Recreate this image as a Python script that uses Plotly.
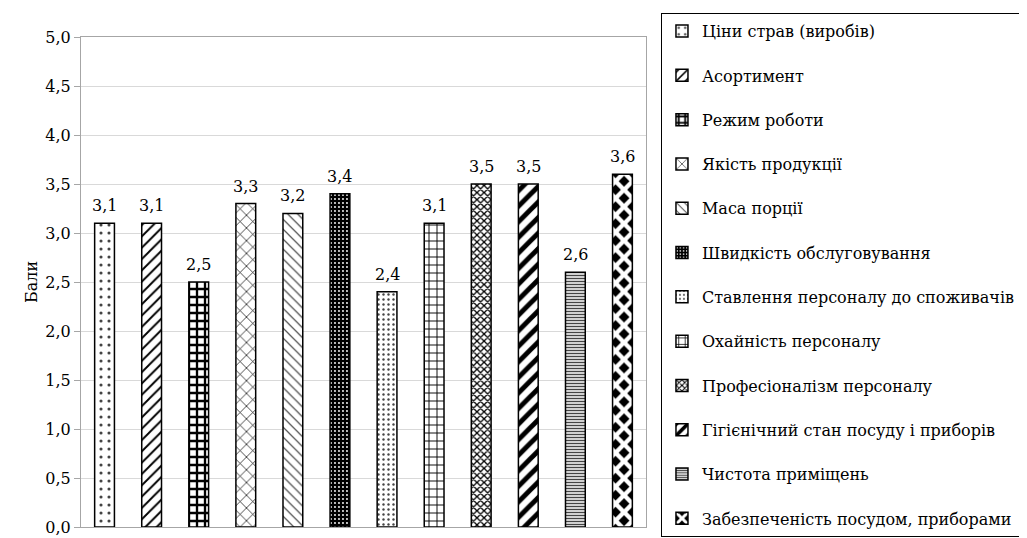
import plotly.graph_objects as go

categories = [
    "Ціни страв (виробів)",
    "Асортимент",
    "Режим роботи",
    "Якість продукції",
    "Маса порції",
    "Швидкість обслуговування",
    "Ставлення персоналу до споживачів",
    "Охайність персоналу",
    "Професіоналізм персоналу",
    "Гігієнічний стан посуду і приборів",
    "Чистота приміщень",
    "Забезпеченість посудом, приборами",
]
values = [3.1, 3.1, 2.5, 3.3, 3.2, 3.4, 2.4, 3.1, 3.5, 3.5, 2.6, 3.6]
y_ticks = [0, 0.5, 1, 1.5, 2, 2.5, 3, 3.5, 4, 4.5, 5]

# (shape, fgcolor, bgcolor, size, solidity)
patterns = [
    (".", "#444444", "white", 8, 0.12),
    ("/", "black", "white", 8, 0.24),
    ("+", "black", "white", 8, 0.5),
    ("x", "black", "white", 9, 0.15),
    ("\\", "#555555", "white", 7, 0.18),
    (".", "white", "black", 4, 0.18),
    (".", "#444444", "white", 5, 0.18),
    ("+", "black", "white", 8, 0.22),
    ("x", "black", "white", 5, 0.45),
    ("/", "black", "white", 11, 0.45),
    ("-", "#444444", "white", 3, 0.5),
    ("x", "white", "black", 12, 0.6),
]

FONT = "DejaVu Serif"

fig = go.Figure()
for i, (cat, val) in enumerate(zip(categories, values)):
    shp, fg, bg, sz, sol = patterns[i]
    fig.add_trace(go.Bar(
        x=[cat], y=[val], name=cat, legendgroup=cat,
        width=0.42,
        marker=dict(color=bg, line=dict(color="black", width=1.5),
                    pattern=dict(shape=shp, fgcolor=fg, bgcolor=bg, size=sz,
                                 solidity=sol, fillmode="overlay", fgopacity=1)),
    ))
    fig.add_annotation(
        x=cat, y=val, text=f"{val:.1f}".replace(".", ","),
        showarrow=False, yanchor="bottom", yshift=6,
        font=dict(family=FONT, size=16, color="black"),
    )

fig.update_layout(
    width=1027, height=538,
    margin=dict(l=73, r=389, t=29, b=19, autoexpand=False),
    paper_bgcolor="white", plot_bgcolor="white",
    barmode="overlay",
    separators=", ",
    font=dict(family=FONT, size=16, color="black"),
    showlegend=True,
    legend=dict(
        x=1.0265, y=1.0487, xanchor="left", yanchor="top",
        bordercolor="black", borderwidth=1,
        font=dict(family=FONT, size=16, color="black"),
        tracegroupgap=20.5, traceorder="grouped",
        bgcolor="white", maxheight=700,
    ),
)
fig.update_xaxes(showticklabels=False, showline=True, linecolor="#a6a6a6",
                 linewidth=1, mirror=True, ticks="", showgrid=False,
                 categoryorder="array", categoryarray=categories)
fig.update_yaxes(range=[0, 5], tickvals=y_ticks, tickformat=".1f",
                 showgrid=True, gridcolor="#d9d9d9", gridwidth=1,
                 showline=True, linecolor="#a6a6a6", linewidth=1, mirror=True,
                 ticks="outside", tickcolor="#a6a6a6", ticklen=6,
                 tickfont=dict(family=FONT, size=16, color="black"),
                 title=dict(text="Бали", font=dict(family=FONT, size=16, color="black"),
                            standoff=3),
                 zeroline=False)

fig.write_html("out.html")
